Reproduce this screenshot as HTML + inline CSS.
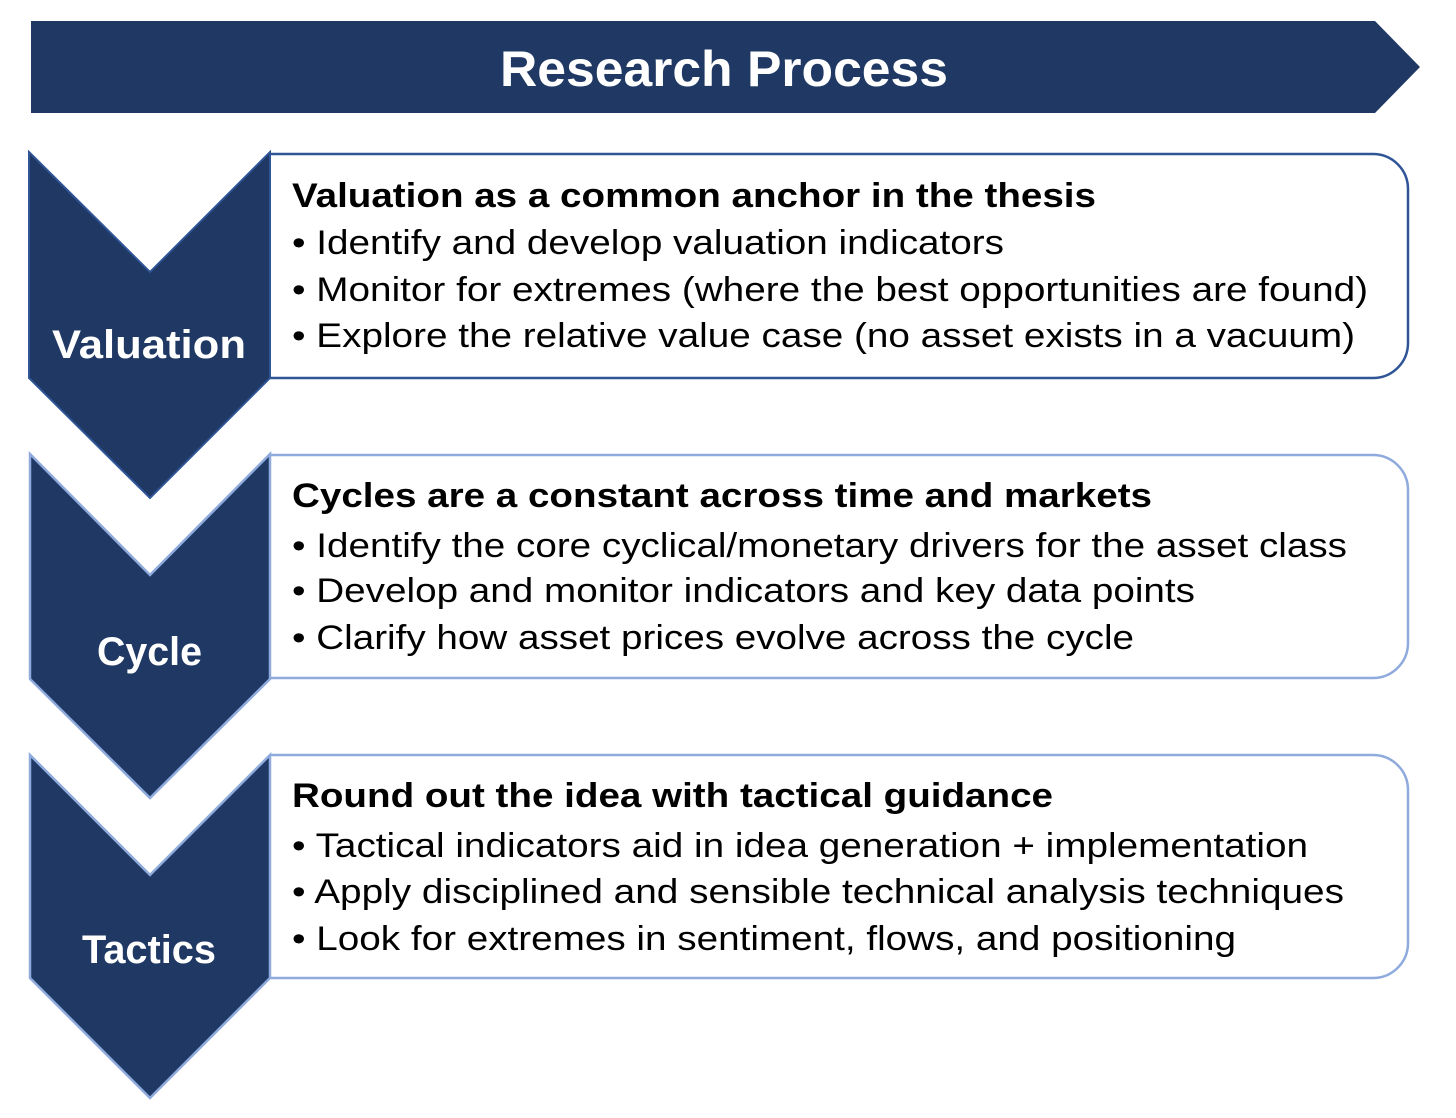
<!DOCTYPE html>
<html><head><meta charset="utf-8"><style>html,body{margin:0;padding:0;background:#fff}svg{display:block}</style></head>
<body>
<svg width="1456" height="1118" viewBox="0 0 1456 1118" xmlns="http://www.w3.org/2000/svg">
<polygon points="31,21 1375,21 1420,67 1375,113 31,113" fill="#1f3864"/>
<text x="500" y="86" font-family="Liberation Sans, sans-serif" font-weight="bold" font-size="50" fill="#fff" textLength="448" lengthAdjust="spacingAndGlyphs">Research Process</text>

<path d="M270,154 H1373 A35,35 0 0 1 1408,189 V343 A35,35 0 0 1 1373,378 H270" fill="#fff" stroke="#2f5597" stroke-width="2.5"/>
<path d="M270,455 H1373 A35,35 0 0 1 1408,490 V643 A35,35 0 0 1 1373,678 H270" fill="#fff" stroke="#8faadc" stroke-width="2.5"/>
<path d="M270,755 H1373 A35,35 0 0 1 1408,790 V943 A35,35 0 0 1 1373,978 H270" fill="#fff" stroke="#8faadc" stroke-width="2.5"/>

<polygon points="29,152 150,272 270,152 270,378 150,498 29,378" fill="#1f3864" stroke="#2f5597" stroke-width="2"/>
<polygon points="30,454 150,575 270,454 270,679 150,798 30,679" fill="#1f3864" stroke="#8faadc" stroke-width="2.5"/>
<polygon points="30,755 150,875 270,755 270,978 150,1098 30,978" fill="#1f3864" stroke="#8faadc" stroke-width="2.5"/>

<g font-family="Liberation Sans, sans-serif" font-weight="bold" font-size="40" fill="#fff">
<text x="52" y="358" textLength="194" lengthAdjust="spacingAndGlyphs">Valuation</text>
<text x="97" y="665" textLength="105" lengthAdjust="spacingAndGlyphs">Cycle</text>
<text x="82" y="963" textLength="134" lengthAdjust="spacingAndGlyphs">Tactics</text>
</g>

<g font-family="Liberation Sans, sans-serif" font-size="34" fill="#000">
<text x="292" y="207" font-weight="bold" textLength="804" lengthAdjust="spacingAndGlyphs">Valuation as a common anchor in the thesis</text>
<text x="292" y="254" textLength="712" lengthAdjust="spacingAndGlyphs">• Identify and develop valuation indicators</text>
<text x="292" y="301" textLength="1076" lengthAdjust="spacingAndGlyphs">• Monitor for extremes (where the best opportunities are found)</text>
<text x="292" y="347" textLength="1063" lengthAdjust="spacingAndGlyphs">• Explore the relative value case (no asset exists in a vacuum)</text>

<text x="292" y="507" font-weight="bold" textLength="860" lengthAdjust="spacingAndGlyphs">Cycles are a constant across time and markets</text>
<text x="292" y="557" textLength="1055" lengthAdjust="spacingAndGlyphs">• Identify the core cyclical/monetary drivers for the asset class</text>
<text x="292" y="602" textLength="903" lengthAdjust="spacingAndGlyphs">• Develop and monitor indicators and key data points</text>
<text x="292" y="649" textLength="842" lengthAdjust="spacingAndGlyphs">• Clarify how asset prices evolve across the cycle</text>

<text x="292" y="807" font-weight="bold" textLength="761" lengthAdjust="spacingAndGlyphs">Round out the idea with tactical guidance</text>
<text x="292" y="857" textLength="1016" lengthAdjust="spacingAndGlyphs">• Tactical indicators aid in idea generation + implementation</text>
<text x="292" y="903" textLength="1052" lengthAdjust="spacingAndGlyphs">• Apply disciplined and sensible technical analysis techniques</text>
<text x="292" y="950" textLength="944" lengthAdjust="spacingAndGlyphs">• Look for extremes in sentiment, flows, and positioning</text>
</g>
</svg>
</body></html>
